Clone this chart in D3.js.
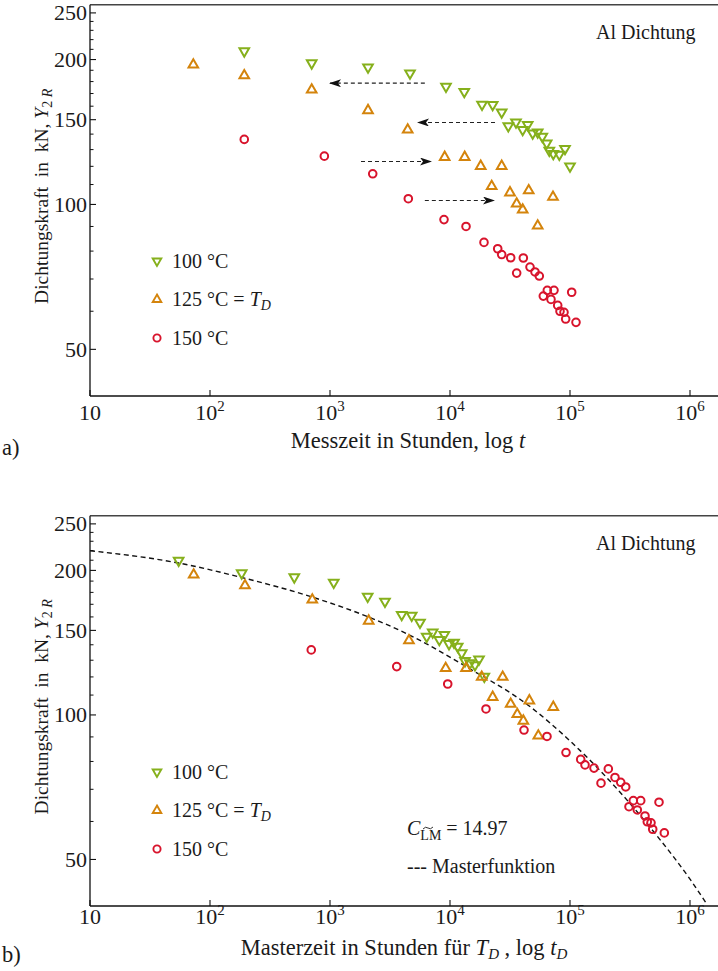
<!DOCTYPE html>
<html><head><meta charset="utf-8">
<script src="https://cdn.jsdelivr.net/npm/d3@7"></script>
<style>
body{margin:0;background:#fff}
svg{display:block}
text{font-family:"Liberation Serif","Times New Roman",serif;fill:#1a1a1a}
</style>
</head><body>
<svg id="c" width="718" height="971"></svg>
<script>
// ---------- data ----------
// panel a) Messzeit t [h] and Dichtungskraft [kN]
const t100a = [193, 704, 2074, 4642, 9260, 13150, 18490, 22680, 26960, 30600, 35480, 40340, 44410, 48870, 53810, 58790, 63910, 67220, 72560, 81460, 90850, 100000];
const F100a = [208.2, 196.6, 192.8, 187.4, 175.8, 171.4, 161.3, 161.1, 155.5, 145.5, 148.2, 142.9, 146.4, 140.6, 141.3, 138.4, 134.0, 129.4, 127.4, 127.0, 130.5, 120.1];
const t125a = [72.6, 193, 704, 2074, 4442, 9030, 13260, 18030, 26960, 22260, 31620, 45290, 72160, 35940, 40340, 53810];
const F125a = [195.1, 185.3, 173.1, 156.8, 142.9, 125.4, 125.4, 120.1, 120.1, 109.1, 105.8, 106.9, 103.6, 100.3, 97.5, 90.3];
const t150a = [193, 897, 2270, 4493, 8913, 13600, 19200, 24980, 26960, 32040, 40840, 35940, 46420, 51100, 55480, 64700, 73560, 59920, 69450, 103300, 78980, 82540, 89130, 92020, 112200];
const F150a = [136.5, 126.0, 115.8, 102.8, 93.0, 90.0, 83.4, 80.9, 78.7, 77.5, 77.4, 72.0, 74.1, 72.4, 71.0, 66.3, 66.3, 64.5, 63.5, 65.7, 61.7, 60.0, 59.7, 57.8, 56.9];
// shift arrows in panel a)
const arrowFromT = [6170, 23710, 1812, 6170];
const arrowToT   = [1000, 5412, 6948, 23260];
const arrowF     = [178.6, 148.0, 122.8, 101.9];

// panel b) Masterzeit t_D [h]
const t100b = [54.8, 183.7, 504, 1074, 2061, 2872, 3959, 4797, 5623, 6394, 7175, 8147, 8966, 9812, 10800, 11590, 12520, 13340, 14680, 16140, 17450, 19320];
const F100b = [209.8, 197.4, 193.7, 188.8, 176.5, 172.3, 161.7, 161.1, 155.8, 145.7, 148.7, 143.4, 146.9, 140.6, 141.5, 138.8, 134.5, 129.6, 128.2, 127.1, 130.6, 120.2];
const t125b = [73.1, 195.7, 712, 2101, 4550, 9207, 13600, 18380, 27480, 22680, 32040, 45830, 72560, 36360, 40840, 54450];
const F125b = [195.9, 186.1, 173.8, 157.0, 142.9, 125.1, 125.1, 119.9, 119.9, 108.9, 105.4, 107.1, 103.8, 100.3, 97.2, 90.5];
const t150b = [698, 3597, 9572, 19950, 41380, 64300, 92630, 122800, 133400, 158500, 208600, 181300, 237100, 264600, 291200, 337000, 388400, 310200, 363900, 551800, 421700, 440600, 473200, 488900, 610900];
const F150b = [136.6, 126.1, 116.0, 102.9, 93.0, 90.2, 83.5, 80.8, 78.7, 77.5, 77.2, 72.1, 74.1, 72.4, 70.8, 66.3, 66.3, 64.4, 63.4, 65.8, 61.6, 59.9, 59.6, 57.8, 56.8];
// Masterfunktion (dashed)
const masterT = [10, 54.8, 183.7, 712, 2101, 4550, 13600, 46400, 100000, 177800, 316200, 562300, 1000000, 1377000];
const masterF = [219.8, 207.2, 193.3, 176.0, 159.9, 146.9, 126.1, 104.1, 88.3, 76.6, 65.4, 55.0, 45.5, 40.4];

// axes
const xTickVals = [10, 100, 1000, 10000, 100000, 1000000];
const xTickExp  = ["", "2", "3", "4", "5", "6"];
const yMajor = [50, 100, 150, 200, 250];
const yMinor = [60, 70, 80, 90, 110, 120, 130, 140, 160, 170, 180, 190, 210, 220, 230, 240];
const legendLabels = ["100 °C", "125 °C = ", "150 °C"];
const colors = {g: "#86b01c", o: "#d4840c", r: "#d8142c"};

// ---------- drawing ----------
const svg = d3.select("#c");
const X0 = 90, X1 = 690, XR = 718;

function panel(cfg) {
  const g = svg.append("g");
  const x = d3.scaleLog().domain([10, 1e6]).range([X0, X1]);
  const y = d3.scaleLog().domain([40, 260]).range([cfg.bottom, cfg.top]);
  const clipId = "clip" + cfg.id;
  svg.append("defs").append("clipPath").attr("id", clipId)
    .append("rect").attr("x", X0).attr("y", cfg.top).attr("width", XR - X0).attr("height", cfg.bottom - cfg.top);

  // frame
  g.append("line").attr("x1", X0).attr("x2", XR).attr("y1", cfg.top).attr("y2", cfg.top)
    .attr("stroke", "#444").attr("stroke-width", 1.6);
  g.append("line").attr("x1", X0).attr("x2", X0).attr("y1", cfg.top).attr("y2", cfg.bottom)
    .attr("stroke", "#222").attr("stroke-width", 1.4);
  g.append("line").attr("x1", X0).attr("x2", XR).attr("y1", cfg.bottom).attr("y2", cfg.bottom)
    .attr("stroke", "#111").attr("stroke-width", 1.4);

  // x ticks
  xTickVals.forEach((v, i) => {
    const px = x(v);
    g.append("line").attr("x1", px).attr("x2", px).attr("y1", cfg.bottom).attr("y2", cfg.bottom - 6)
      .attr("stroke", "#111").attr("stroke-width", 1.1);
    const t = g.append("text").attr("x", px).attr("y", cfg.bottom + cfg.xlabOff)
      .attr("text-anchor", "middle").attr("font-size", 22);
    t.append("tspan").text("10");
    if (xTickExp[i]) t.append("tspan").attr("dy", -9).attr("font-size", 15).text(xTickExp[i]);
  });
  // y ticks
  yMajor.forEach(v => {
    g.append("line").attr("x1", X0).attr("x2", X0 + 6).attr("y1", y(v)).attr("y2", y(v))
      .attr("stroke", "#111").attr("stroke-width", 1.1);
    g.append("text").attr("x", X0 - 3).attr("y", y(v) + 7.5).attr("text-anchor", "end")
      .attr("font-size", 22).text(v);
  });
  yMinor.forEach(v => {
    g.append("line").attr("x1", X0).attr("x2", X0 + 3.5).attr("y1", y(v)).attr("y2", y(v))
      .attr("stroke", "#111").attr("stroke-width", 1);
  });

  // y title
  const yt = g.append("text").attr("transform", `translate(48,${(cfg.top + cfg.bottom) / 2 - 4}) rotate(-90)`)
    .attr("text-anchor", "middle").attr("font-size", 19.5);
  yt.append("tspan").text("Dichtungskraft\u2002in\u2002kN, ");
  yt.append("tspan").attr("font-style", "italic").text("Y");
  yt.append("tspan").attr("font-size", 14).attr("dy", 4).text("2 ");
  yt.append("tspan").attr("font-size", 14).attr("font-style", "italic").text("R");

  // x title
  const xt = g.append("text").attr("x", cfg.xtitleX).attr("y", cfg.xtitleY)
    .attr("text-anchor", "middle").attr("font-size", 22.5);
  cfg.xtitle(xt);
  g.append("text").attr("x", 2).attr("y", cfg.panelLabY).attr("font-size", 22.5).text(cfg.panelLab);

  // "Al Dichtung"
  g.append("text").attr("x", 596).attr("y", cfg.top + 34).attr("font-size", 20).text("Al Dichtung");

  const plot = g.append("g").attr("clip-path", `url(#${clipId})`);
  if (cfg.extra) cfg.extra(plot, x, y, g);

  const tri = d3.symbol(d3.symbolTriangle, 40);
  function drawSeries(T, F, kind) {
    const pts = T.map((t, i) => [x(t), y(F[i])]);
    if (kind === "r") {
      plot.selectAll(null).data(pts).join("circle")
        .attr("cx", d => d[0]).attr("cy", d => d[1]).attr("r", 3.8)
        .attr("fill", "none").attr("stroke", colors.r).attr("stroke-width", 2);
    } else {
      plot.selectAll(null).data(pts).join("path")
        .attr("d", tri)
        .attr("transform", d => `translate(${d[0]},${d[1]})` + (kind === "g" ? " rotate(180)" : ""))
        .attr("fill", "none").attr("stroke", colors[kind]).attr("stroke-width", 2);
    }
  }
  drawSeries(cfg.s100[0], cfg.s100[1], "g");
  drawSeries(cfg.s125[0], cfg.s125[1], "o");
  drawSeries(cfg.s150[0], cfg.s150[1], "r");

  // legend
  const lk = ["g", "o", "r"];
  lk.forEach((k, i) => {
    const ly = cfg.legY + i * 38.5;
    if (k === "r") {
      g.append("circle").attr("cx", 157).attr("cy", ly).attr("r", 3.6).attr("fill", "none")
        .attr("stroke", colors.r).attr("stroke-width", 1.9);
    } else {
      g.append("path").attr("d", d3.symbol(d3.symbolTriangle, 32))
        .attr("transform", `translate(157,${ly})` + (k === "g" ? " rotate(180)" : ""))
        .attr("fill", "none").attr("stroke", colors[k]).attr("stroke-width", 1.9);
    }
    const t = g.append("text").attr("x", 172).attr("y", ly + 6.5).attr("font-size", 20);
    t.append("tspan").text(legendLabels[i]);
    if (i === 1) {
      t.append("tspan").attr("font-style", "italic").text("T");
      t.append("tspan").attr("font-style", "italic").attr("font-size", 14).attr("dy", 4).text("D");
    }
  });
  return {x, y};
}

// arrowhead
const defs = svg.append("defs");
defs.append("marker").attr("id", "ah").attr("viewBox", "0 0 12 8").attr("refX", 11).attr("refY", 4)
  .attr("markerWidth", 12).attr("markerHeight", 8).attr("markerUnits", "userSpaceOnUse").attr("orient", "auto")
  .append("path").attr("d", "M0,0 L12,4 L0,8 L3,4 Z").attr("fill", "#111");

panel({
  id: "a", top: 4.7, bottom: 396, xlabOff: 24,
  xtitleX: 408, xtitleY: 448, panelLab: "a)", panelLabY: 455, legY: 261,
  xtitle: t => { t.append("tspan").text("Messzeit in Stunden, log "); t.append("tspan").attr("font-style", "italic").text("t"); },
  s100: [t100a, F100a], s125: [t125a, F125a], s150: [t150a, F150a],
  extra: (plot, x, y) => {
    arrowF.forEach((f, i) => {
      plot.append("line").attr("x1", x(arrowFromT[i])).attr("x2", x(arrowToT[i]))
        .attr("y1", y(f)).attr("y2", y(f)).attr("stroke", "#222").attr("stroke-width", 1.2)
        .attr("stroke-dasharray", "4,3").attr("marker-end", "url(#ah)");
    });
  }
});

panel({
  id: "b", top: 515.7, bottom: 906, xlabOff: 18,
  xtitleX: 404, xtitleY: 955, panelLab: "b)", panelLabY: 962, legY: 772,
  xtitle: t => {
    t.append("tspan").text("Masterzeit in Stunden für ");
    t.append("tspan").attr("font-style", "italic").text("T");
    t.append("tspan").attr("font-style", "italic").attr("font-size", 15).attr("dy", 4).text("D");
    t.append("tspan").attr("dy", -4).text(" , log ");
    t.append("tspan").attr("font-style", "italic").text("t");
    t.append("tspan").attr("font-style", "italic").attr("font-size", 15).attr("dy", 4).text("D");
  },
  s100: [t100b, F100b], s125: [t125b, F125b], s150: [t150b, F150b],
  extra: (plot, x, y, g) => {
    const pts = masterT.map((t, i) => [x(t), y(masterF[i])]);
    plot.append("path").attr("d", d3.line().curve(d3.curveMonotoneX)(pts))
      .attr("fill", "none").attr("stroke", "#111").attr("stroke-width", 1.4)
      .attr("stroke-dasharray", "5,3.5");
    // annotation
    const c = g.append("text").attr("x", 407).attr("y", 835).attr("font-size", 20);
    c.append("tspan").attr("font-style", "italic").text("C");
    c.append("tspan").attr("font-size", 14).attr("dy", 5).text("LM");
    c.append("tspan").attr("dy", -5).text(" = 14.97");
    // tilde over the subscript, drawn as a small path
    g.append("path").attr("d", "M423,829 q2.5,-3 5,-1 t5,-1")
      .attr("fill", "none").attr("stroke", "#1a1a1a").attr("stroke-width", 0.9);
    g.append("text").attr("x", 407).attr("y", 873).attr("font-size", 20).text("--- Masterfunktion");
  }
});
</script>
</body></html>
